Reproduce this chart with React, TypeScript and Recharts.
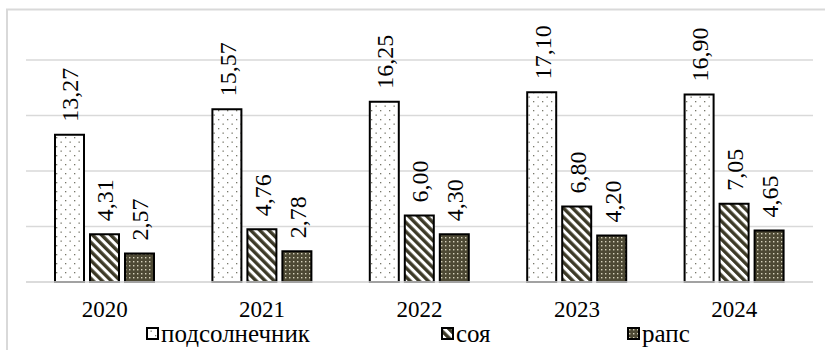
import React from 'react';
import { BarChart, Bar, XAxis, YAxis, CartesianGrid, LabelList } from 'recharts';

const years = ['2020', '2021', '2022', '2023', '2024'];
const sunflower = [13.27, 15.57, 16.25, 17.1, 16.9];
const soy = [4.31, 4.76, 6.0, 6.8, 7.05];
const rapeseed = [2.57, 2.78, 4.3, 4.2, 4.65];
const seriesNames = ['подсолнечник', 'соя', 'рапс'];
const yTicks = [0, 5, 10, 15, 20];

const data = years.map((y, i) => ({
  year: y,
  sunflower: sunflower[i],
  soy: soy[i],
  rapeseed: rapeseed[i],
}));

const FONT = "'Liberation Serif', 'DejaVu Serif', serif";

const fmt = (v: number) => v.toFixed(2).replace('.', ',');

const RotLabel = (props: any) => {
  const { x, y, width, value } = props;
  const cx = x + width / 2 + 9;
  const ty = y - 13;
  return (
    <text
      x={cx}
      y={ty}
      transform={`rotate(-90, ${cx}, ${ty})`}
      textAnchor="start"
      style={{ fontFamily: FONT, fontSize: 24 }}
      fill="#000"
    >
      {fmt(Number(value))}
    </text>
  );
};

const Tick = (props: any) => {
  const { x, payload } = props;
  return (
    <text x={x} y={317} textAnchor="middle" style={{ fontFamily: FONT, fontSize: 23 }} fill="#000">
      {payload.value}
    </text>
  );
};

const fills = ['url(#pSun)', 'url(#pSoy)', 'url(#pRape)'];
const legendX = [147, 442, 628];

export default function App() {
  return (
    <div style={{ position: 'absolute', left: 0, top: 0, width: 825, height: 350, background: '#fff' }}>
      <svg width={825} height={350} style={{ position: 'absolute', left: 0, top: 0 }}>
        <defs>
          <pattern id="pSun" width="9" height="9" patternUnits="userSpaceOnUse">
            <rect width="9" height="9" fill="#fff" />
            <rect x="2" y="2" width="1.3" height="1.3" fill="#77776a" />
            <rect x="6.5" y="6.5" width="1.3" height="1.3" fill="#77776a" />
          </pattern>
          <pattern id="pSoy" width="6.4" height="6.4" patternUnits="userSpaceOnUse" patternTransform="rotate(-45)">
            <rect width="6.4" height="6.4" fill="#fff" />
            <rect x="0" y="0" width="3.4" height="6.4" fill="#3d3a28" />
          </pattern>
          <pattern id="pRape" width="4" height="4" patternUnits="userSpaceOnUse">
            <rect width="4" height="4" fill="#4d4934" />
            <rect x="1" y="1" width="1.4" height="1.4" fill="#d6d2bc" />
          </pattern>
        </defs>
        <rect x={7} y={9.5} width={900} height={400} fill="none" stroke="#d9d9d9" strokeWidth={2} />
        {seriesNames.map((n, i) => (
          <g key={n}>
            <rect x={legendX[i]} y={328} width={11} height={11} fill={fills[i]} stroke="#000" strokeWidth={2} />
            <text x={legendX[i] + 14} y={342} style={{ fontFamily: FONT, fontSize: 25 }} fill="#000">
              {n}
            </text>
          </g>
        ))}
      </svg>
      <div style={{ position: 'absolute', left: 0, top: 0 }}>
        <BarChart
          width={825}
          height={350}
          data={data}
          margin={{ top: 60, right: 12, bottom: 38, left: 26 }}
          barSize={29}
          barGap={6}
        >
          <CartesianGrid vertical={false} stroke="#d9d9d9" strokeWidth={1.5} />
          <XAxis
            dataKey="year"
            height={30}
            axisLine={{ stroke: '#d9d9d9', strokeWidth: 1.5 }}
            tickLine={false}
            tick={<Tick />}
            interval={0}
          />
          <YAxis hide domain={[0, 20]} ticks={yTicks} />
          <Bar dataKey="sunflower" name={seriesNames[0]} fill="url(#pSun)" stroke="#000" strokeWidth={2} isAnimationActive={false}>
            <LabelList dataKey="sunflower" content={<RotLabel />} />
          </Bar>
          <Bar dataKey="soy" name={seriesNames[1]} fill="url(#pSoy)" stroke="#000" strokeWidth={2} isAnimationActive={false}>
            <LabelList dataKey="soy" content={<RotLabel />} />
          </Bar>
          <Bar dataKey="rapeseed" name={seriesNames[2]} fill="url(#pRape)" stroke="#000" strokeWidth={2} isAnimationActive={false}>
            <LabelList dataKey="rapeseed" content={<RotLabel />} />
          </Bar>
        </BarChart>
      </div>
    </div>
  );
}
